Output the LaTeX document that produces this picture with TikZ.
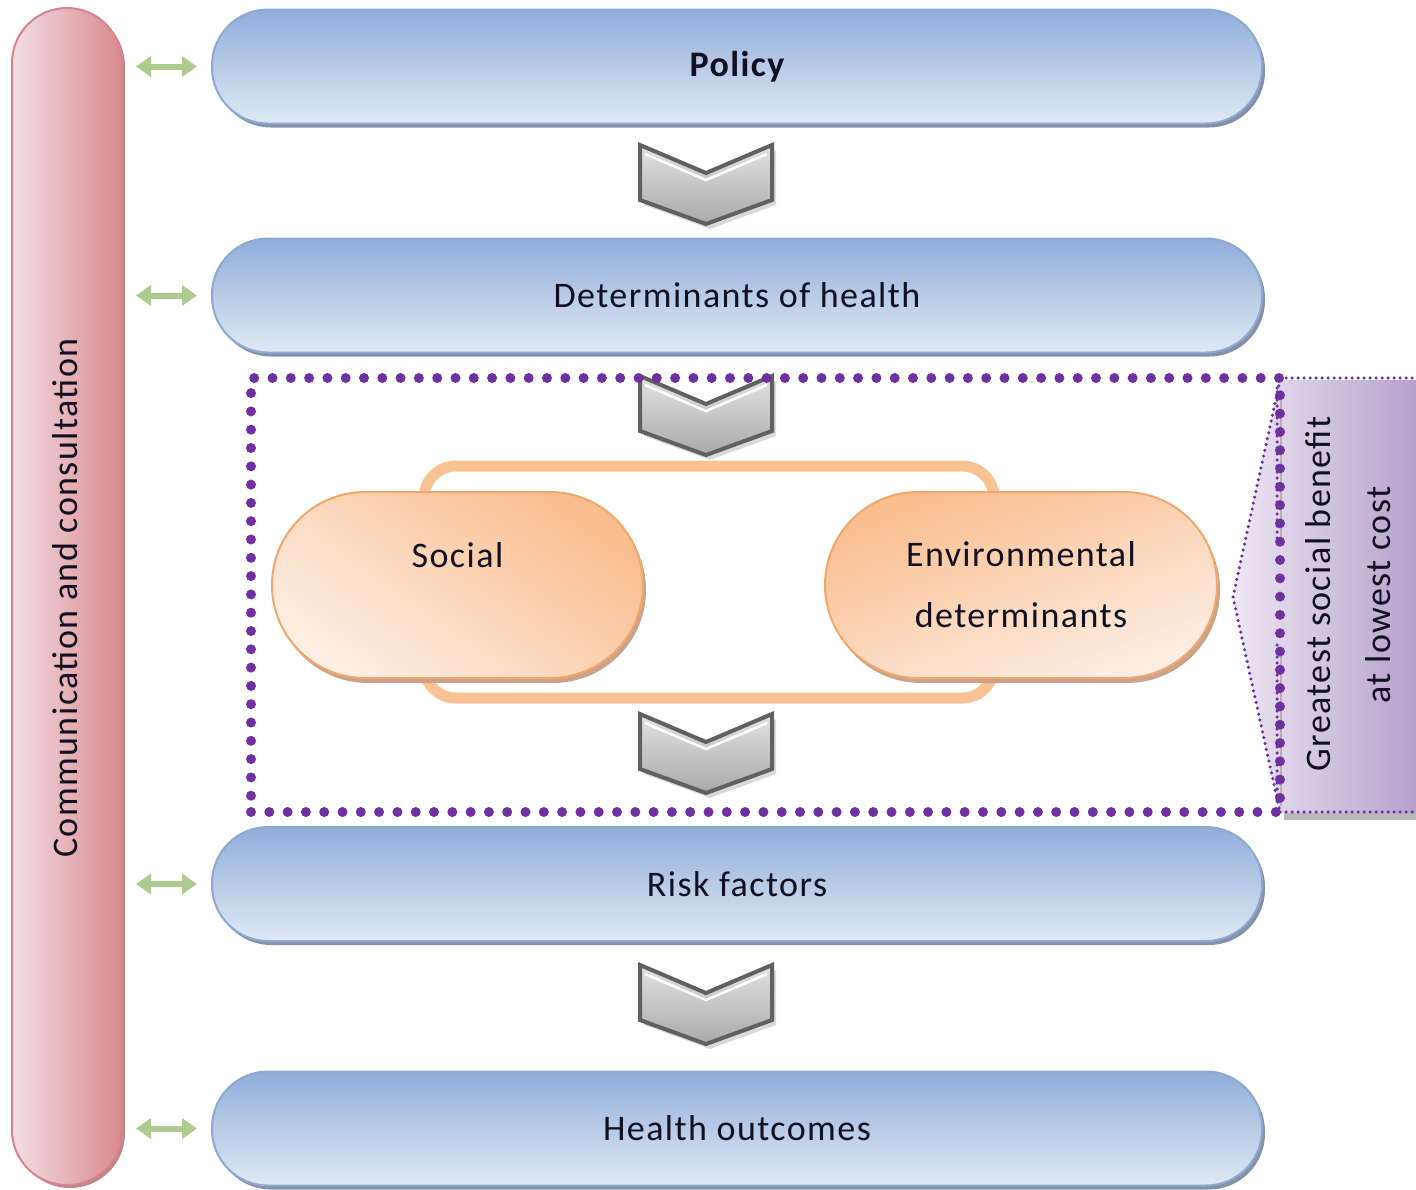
\documentclass[tikz,border=0pt]{standalone}
\usepackage{fontspec}
\setmainfont{Carlito}[LetterSpace=4]
\usetikzlibrary{arrows.meta,shadows}

\definecolor{txt}{HTML}{101020}
\definecolor{barTop}{HTML}{90ADD9}
\definecolor{barBot}{HTML}{E0E9F4}
\definecolor{barEdge}{HTML}{8BA9D4}
\definecolor{barShadow}{HTML}{8592A6}
\definecolor{pinkL}{HTML}{F3DEE1}
\definecolor{pinkR}{HTML}{D98990}
\definecolor{pinkEdge}{HTML}{D5858B}
\definecolor{arrowGreen}{HTML}{AECB8F}
\definecolor{chevTop}{HTML}{E2E2E2}
\definecolor{chevBot}{HTML}{A9A9A9}
\definecolor{chevEdge}{HTML}{606060}
\definecolor{ringOrange}{HTML}{F8C292}
\definecolor{orDark}{HTML}{F9BD8E}
\definecolor{orLight}{HTML}{FDEEE3}
\definecolor{orEdge}{HTML}{F3A66A}
\definecolor{orShadow}{HTML}{C9A48A}
\definecolor{dotPurple}{HTML}{7030A0}
\definecolor{lavL}{HTML}{EDE7F3}
\definecolor{lavR}{HTML}{B7A1CC}

\tikzset{
  basefont/.style={font=\fontsize{36}{43}\selectfont, text=txt},
  bluebar/.style={basefont, draw=barEdge, line width=2pt, rounded corners=56pt,
    top color=barTop, bottom color=barBot,
    minimum width=1050pt, minimum height=114pt,
    general shadow={shadow xshift=3pt, shadow yshift=-4pt, fill=barShadow}},
  pinkbar/.style={draw=pinkEdge, line width=2pt, rounded corners=55pt,
    left color=pinkL, right color=pinkR,
    minimum width=110pt, minimum height=1177pt,
    general shadow={shadow xshift=3pt, shadow yshift=-3pt, fill=pinkR!70!gray}},
  orangepill/.style={basefont, draw=orEdge, line width=2pt, rounded corners=93pt,
    top color=orDark, bottom color=orLight, shading angle=-35,
    minimum height=186pt, align=center,
    general shadow={shadow xshift=3pt, shadow yshift=-5pt, fill=orShadow}},
  ringbox/.style={draw=ringOrange, line width=11pt, rounded corners=32pt,
    minimum width=570pt, minimum height=232pt},
  garrow/.style={draw=arrowGreen, line width=6pt,
    {Triangle[length=15pt,width=20pt]}-{Triangle[length=15pt,width=20pt]},
    shorten <=13pt, shorten >=14pt},
  bigdots/.style={draw=dotPurple, line width=10pt, line cap=round,
    dash pattern=on 0pt off 18.3pt},
  smalldots/.style={draw=dotPurple, line width=3.5pt, line cap=round,
    dash pattern=on 0pt off 6pt},
  chevron/.pic={
    \fill[gray!30] (-62,-34) -- (4,-6) -- (70,-34) -- (70,21) -- (4,45) -- (-62,21) -- cycle;
    \draw[draw=chevEdge, line width=4pt, line join=miter, top color=chevTop, bottom color=chevBot]
      (-66,-39) -- (0,-11) -- (66,-39) -- (66,16) -- (0,40) -- (-66,16) -- cycle;
    \draw[white, line width=2.5pt] (-61,-30) -- (0,-4) -- (61,-30);
  }
}

\begin{document}
\begin{tikzpicture}[x=1pt,y=-1pt]
\useasboundingbox (0,0) rectangle (1416,1189);

% left column: communication and consultation
\node[pinkbar] (comm) at (67,596.5) {};
\node[basefont, rotate=90] (commtext) at (65,598) {Communication and consultation};

% main stages
\node[bluebar] (policy) at (737,66.5) {\bfseries Policy};
\node[bluebar] (det) at (737,295.5) {Determinants of health};
\node[bluebar] (risk) at (737,884) {Risk factors};
\node[bluebar] (health) at (737,1128.5) {Health outcomes};

% links between the left column and each stage
\foreach \n in {policy,det,risk,health}
  \draw[garrow] (comm.east |- \n.west) -- (\n.west);

% flow chevrons
\pic at (706,184) {chevron};
\pic at (706,415) {chevron};
\pic at (706,753) {chevron};
\pic at (706,1004) {chevron};

% social and environmental determinants, joined by a ring
\node[ringbox] (ring) at (709,582) {};
\node[orangepill, minimum width=371pt] (social) at (457.5,585) {Social\\[18pt]\mbox{}};
\node[orangepill, minimum width=392pt, shading angle=20] (env) at (1021,585) {Environmental\\[18pt]determinants};

% side panel: greatest social benefit at lowest cost
\fill[gray!55] (1284,812) rectangle (1416,820);
\shade[left color=lavL, right color=lavR]
  (1280,380) -- (1416,380) -- (1416,813) -- (1280,813) -- (1233,597) -- cycle;
\draw[gray!60, line width=2pt] (1281,390) -- (1281,543) (1281,647) -- (1281,806);
\draw[smalldots] (1280,380) -- (1233,597) -- (1280,812);
\draw[smalldots] (1277,388) -- (1277,543);
\draw[smalldots] (1277,645) -- (1277,805);
\draw[smalldots] (1280,378) -- (1416,378);
\draw[smalldots] (1280,812) -- (1416,812);
\node[basefont, rotate=90] (benefit) at (1318,594) {Greatest social benefit};
\node[basefont, rotate=90] (cost) at (1378,595) {at lowest cost};

% dotted frame around the determinants stage
\node[bigdots, minimum width=1029pt, minimum height=434pt, inner sep=0pt] (frame) at (765.5,595) {};
\end{tikzpicture}
\end{document}
